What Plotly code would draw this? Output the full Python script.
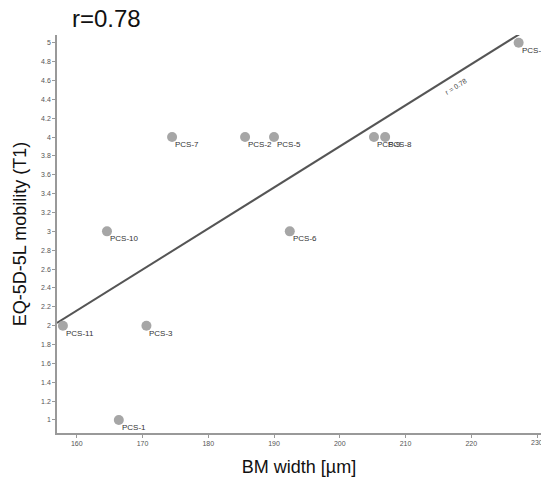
import numpy as np
import plotly.graph_objects as go

# Data
labels = ["PCS-1", "PCS-2", "PCS-3", "PCS-4", "PCS-5", "PCS-6", "PCS-7", "PCS-8", "PCS-9", "PCS-10", "PCS-11"]
bm_width = [166.4, 185.6, 170.6, 227.2, 190.0, 192.4, 174.5, 206.9, 205.2, 164.6, 157.9]
mobility = [1, 4, 2, 5, 4, 3, 4, 4, 4, 3, 2]
r_text = "r=0.78"
x_ticks = [160, 170, 180, 190, 200, 210, 220, 230]
y_ticks = [1, 1.2, 1.4, 1.6, 1.8, 2, 2.2, 2.4, 2.6, 2.8, 3, 3.2, 3.4, 3.6, 3.8, 4, 4.2, 4.4, 4.6, 4.8, 5]

x_range = [157.0, 230.6]
y_range = [0.862, 5.082]

slope, intercept = np.polyfit(bm_width, mobility, 1)
line_x = np.array([x_range[0], x_range[1]])
line_y = slope * line_x + intercept

tick_font = dict(family="Liberation Sans, Arial", size=7, color="#555555")

fig = go.Figure()
fig.add_trace(go.Scatter(
    x=line_x, y=line_y, mode="lines",
    line=dict(color="#555555", width=2), hoverinfo="skip", showlegend=False))
fig.add_trace(go.Scatter(
    x=bm_width, y=mobility, mode="markers",
    marker=dict(color="#a6a6a6", size=10, line=dict(width=0)),
    showlegend=False))

for lab, xv, yv in zip(labels, bm_width, mobility):
    fig.add_annotation(x=xv, y=yv, text=lab, showarrow=False,
                       xanchor="left", yanchor="top", xshift=1, yshift=-1,
                       font=dict(family="Liberation Sans, Arial", size=8, color="#333333"))

# r label along the regression line
lx = 217.2
fig.add_annotation(x=lx, y=slope * lx + intercept, text="r = 0.78", showarrow=False,
                   textangle=-32, xshift=3, yshift=-11,
                   font=dict(family="Liberation Sans, Arial", size=7, color="#444444"))

# last x tick label sits at the page edge (partially cut in the reference)
fig.add_annotation(x=x_ticks[-1], xref="x", yref="paper", y=0, yshift=-4,
                   text=str(x_ticks[-1]), showarrow=False, xanchor="center", yanchor="top",
                   font=tick_font)

fig.add_annotation(xref="paper", yref="paper", x=(70 - 57) / 484, y=1 + (35 - 18) / 398,
                   text=r_text, showarrow=False, xanchor="left", yanchor="middle",
                   font=dict(family="Liberation Sans, Arial", size=24, color="#111111"))

axis_common = dict(showgrid=False, zeroline=False, showline=True, linecolor="#999999",
                   linewidth=1.5, ticks="outside", ticklen=3, tickcolor="#999999",
                   tickfont=tick_font)

fig.update_xaxes(range=x_range, tickvals=x_ticks,
                 ticktext=[str(t) for t in x_ticks[:-1]] + [""],
                 title=dict(text="BM width [µm]", font=dict(family="Liberation Sans, Arial", size=18, color="#111111"), standoff=14),
                 **axis_common)
fig.update_yaxes(range=y_range, tickvals=y_ticks, ticktext=[f"{t:g}" for t in y_ticks],
                 title=dict(text="EQ-5D-5L mobility (T1)", font=dict(family="Liberation Sans, Arial", size=18, color="#111111"), standoff=10),
                 **axis_common)

fig.update_layout(width=541, height=479, margin=dict(l=57, r=0, t=35, b=46),
                  plot_bgcolor="white", paper_bgcolor="white")

fig.write_html("out.html")
